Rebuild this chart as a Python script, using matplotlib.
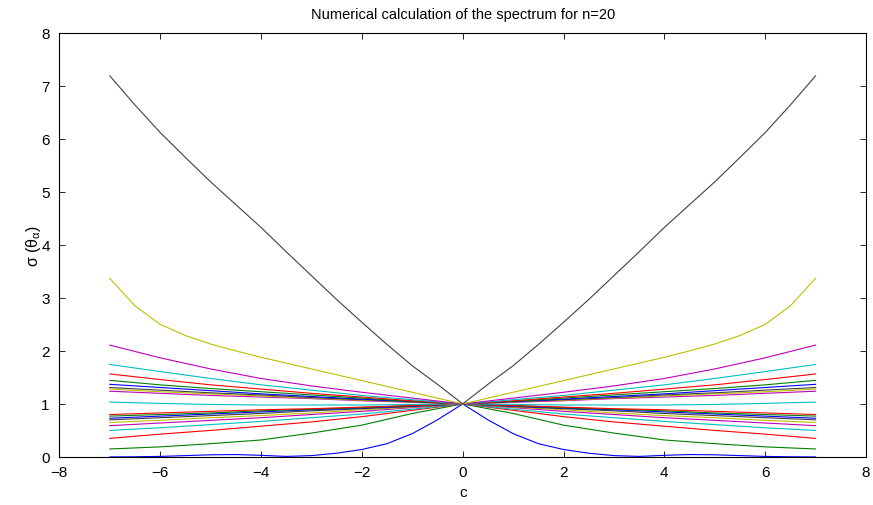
import numpy as np
import matplotlib.pyplot as plt

plt.rcParams['font.family'] = ['Liberation Sans', 'DejaVu Sans']

# c >= 0 half of the spectrum (curves are symmetric in c)
c_coarse = [0, 1, 2, 3, 4, 5, 6, 7]
c_fine = [0, 0.5, 1, 1.5, 2, 2.5, 3, 3.5, 4, 4.5, 5, 5.5, 6, 6.5, 7]

blue_low = [1.0, 0.70, 0.44, 0.25, 0.14, 0.07, 0.025, 0.01, 0.03, 0.045,
            0.04, 0.025, 0.01, 0.003, 0.0]
green_low = [1, 0.82, 0.60, 0.45, 0.32, 0.25, 0.19, 0.15]
red_low = [1, 0.88, 0.76, 0.66, 0.58, 0.50, 0.43, 0.35]
cyan_low = [1, 0.90, 0.81, 0.74, 0.67, 0.61, 0.55, 0.50]
magenta_low = [1, 0.93, 0.86, 0.80, 0.74, 0.69, 0.64, 0.59]
yellow_low = [1, 0.94, 0.89, 0.83, 0.78, 0.74, 0.69, 0.65]
black_low = [1, 0.95, 0.91, 0.87, 0.82, 0.78, 0.74, 0.70]
blue_mid = [1, 0.96, 0.92, 0.89, 0.85, 0.81, 0.77, 0.73]
green_mid = [1, 0.97, 0.93, 0.90, 0.87, 0.83, 0.80, 0.77]
red_mid = [1, 0.97, 0.94, 0.91, 0.89, 0.86, 0.83, 0.80]
cyan_flat = [1, 0.99, 0.98, 0.98, 0.98, 0.99, 1.01, 1.035]
magenta_mid = [1, 1.03, 1.06, 1.10, 1.13, 1.16, 1.20, 1.24]
yellow_mid = [1, 1.04, 1.07, 1.11, 1.15, 1.19, 1.23, 1.28]
black_mid = [1, 1.04, 1.08, 1.12, 1.17, 1.21, 1.26, 1.31]
blue_up = [1, 1.05, 1.09, 1.14, 1.19, 1.25, 1.31, 1.37]
green_up = [1, 1.05, 1.11, 1.17, 1.23, 1.29, 1.36, 1.445]
red_up = [1, 1.06, 1.13, 1.20, 1.28, 1.36, 1.46, 1.565]
cyan_up = [1, 1.08, 1.16, 1.26, 1.36, 1.48, 1.61, 1.745]
magenta_up = [1, 1.11, 1.22, 1.34, 1.48, 1.66, 1.87, 2.11]
yellow_top = [1, 1.11, 1.22, 1.33, 1.44, 1.55, 1.66, 1.77, 1.88, 2.00,
              2.13, 2.29, 2.50, 2.85, 3.37]
black_top = [1, 1.37, 1.72, 2.12, 2.54, 2.97, 3.42, 3.87, 4.33, 4.76,
             5.19, 5.65, 6.12, 6.64, 7.19]

curves = [
    (c_fine, blue_low), (c_coarse, green_low), (c_coarse, red_low),
    (c_coarse, cyan_low), (c_coarse, magenta_low), (c_coarse, yellow_low),
    (c_coarse, black_low), (c_coarse, blue_mid), (c_coarse, green_mid),
    (c_coarse, red_mid), (c_coarse, cyan_flat), (c_coarse, magenta_mid),
    (c_coarse, yellow_mid), (c_coarse, black_mid), (c_coarse, blue_up),
    (c_coarse, green_up), (c_coarse, red_up), (c_coarse, cyan_up),
    (c_coarse, magenta_up), (c_fine, yellow_top), (c_fine, black_top),
]

# old MATLAB colour order b g r c m y k
colors = [(0, 0, 1), (0, 0.5, 0), (1, 0, 0), (0, 0.75, 0.75),
          (0.75, 0, 0.75), (0.75, 0.75, 0), (0.25, 0.25, 0.25)]

fig = plt.figure(figsize=(8.73, 5.06), dpi=100)
ax = fig.add_axes([0.068, 0.095, 0.924, 0.838])

for i, (cs, vals) in enumerate(curves):
    cs = np.array(cs)
    vals = np.array(vals)
    x = np.concatenate([-cs[::-1], cs[1:]])
    y = np.concatenate([vals[::-1], vals[1:]])
    ax.plot(x, y, color=colors[i % 7], linewidth=0.8)

ax.set_xlim(-8, 8)
ax.set_ylim(0, 8)
ax.set_xticks(np.arange(-8, 9, 2))
ax.set_yticks(np.arange(0, 9, 1))
ax.tick_params(direction='in', top=True, right=True, length=4, width=0.6,
               labelsize=11)
ax.tick_params(axis='x', pad=6)
ax.tick_params(axis='y', pad=7)
for s in ax.spines.values():
    s.set_linewidth(0.8)

ax.set_xlabel('c', fontsize=11, labelpad=4)
ax.set_ylabel(r'σ (θ$_\mathregular{α}$)', fontsize=11.5, labelpad=-1)
ax.set_title('Numerical calculation of the spectrum for n=20', fontsize=10.5,
             pad=11)

plt.savefig('out.png', dpi=100)
